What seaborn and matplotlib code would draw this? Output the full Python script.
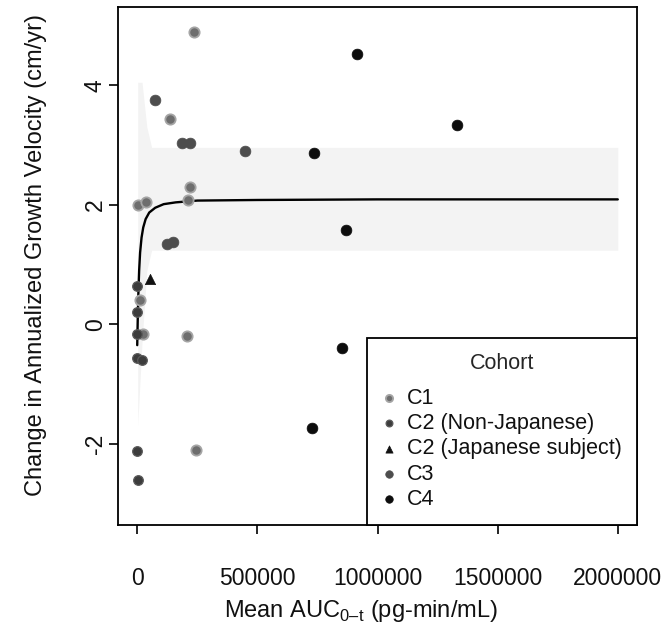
import numpy as np
import pandas as pd
import matplotlib
matplotlib.use("Agg")
import matplotlib.pyplot as plt
import seaborn as sns

# ---- data ----
c1_x = [237000, 137000, 220000, 212000, 3000, 37000, 11000, 25000, 209000, 244000]
c1_y = [4.89, 3.43, 2.29, 2.08, 1.99, 2.05, 0.40, -0.17, -0.20, -2.10]

c2n_x = [0, 0, 0, 0, 21000, 0, 2000]
c2n_y = [0.64, 0.21, -0.16, -0.57, -0.60, -2.12, -2.61]

c2j_x = [53000]
c2j_y = [0.76]

c3_x = [74000, 185000, 220000, 450000, 125500, 150600]
c3_y = [3.75, 3.03, 3.03, 2.90, 1.34, 1.38]

c4_x = [915000, 1331000, 736000, 870000, 852000, 728000]
c4_y = [4.53, 3.33, 2.87, 1.57, -0.40, -1.73]

cohort_names = ["C1", "C2 (Non-Japanese)", "C2 (Japanese subject)", "C3", "C4"]

curve_x = [0, 1000, 2500, 5000, 8000, 12000, 18000, 25000, 35000, 50000,
           75000, 110000, 160000, 250000, 500000, 1000000, 2000000]
curve_y = [-0.35, -0.15, 0.15, 0.55, 0.90, 1.20, 1.45, 1.62, 1.76, 1.87,
           1.95, 2.01, 2.04, 2.07, 2.08, 2.09, 2.09]

band_x = [2000, 20000, 40000, 60000, 2000000]
band_lo = [-1.70, -0.30, 0.90, 1.24, 1.24]
band_hi = [4.05, 4.05, 3.30, 2.96, 2.96]

x_ticks = [0, 500000, 1000000, 1500000, 2000000]
y_ticks = [-2, 0, 2, 4]

# ---- build table ----
frames = []
for name, xs, ys in zip(cohort_names,
                        [c1_x, c2n_x, c2j_x, c3_x, c4_x],
                        [c1_y, c2n_y, c2j_y, c3_y, c4_y]):
    frames.append(pd.DataFrame({"auc": xs, "dgv": ys, "Cohort": name}))
df = pd.concat(frames, ignore_index=True)
curve = pd.DataFrame({"auc": curve_x, "dgv": curve_y})

sns.set_theme(style="white")
plt.rcParams["font.family"] = ["Liberation Sans", "DejaVu Sans"]
plt.rcParams["mathtext.fontset"] = "custom"
plt.rcParams["mathtext.rm"] = "Liberation Sans"

fig = plt.figure(figsize=(6.65, 6.29), dpi=100)
ax = fig.add_axes([118 / 665, 1 - 525 / 629, (637 - 118) / 665, (525 - 7) / 629])

ax.fill_between(band_x, band_lo, band_hi, color="#f3f3f3", lw=0, zorder=1)
sns.lineplot(data=curve, x="auc", y="dgv", color="black", lw=1.7, ax=ax, zorder=2)

styles = {
    "C1": dict(color="#6e6e6e", marker="o", s=55, edgecolor="#a5a5a5", linewidth=1.3),
    "C2 (Non-Japanese)": dict(color="#3c3c3c", marker="o", s=48, edgecolor="#5a5a5a", linewidth=0.9),
    "C2 (Japanese subject)": dict(color="#111111", marker="^", s=55, edgecolor="#111111", linewidth=0.5),
    "C3": dict(color="#4d4d4d", marker="o", s=60, edgecolor="#4d4d4d", linewidth=0.5),
    "C4": dict(color="#0d0d0d", marker="o", s=60, edgecolor="#0d0d0d", linewidth=0.5),
}
for name in cohort_names:
    sub = df[df["Cohort"] == name]
    sns.scatterplot(data=sub, x="auc", y="dgv", ax=ax, label=name, zorder=3, **styles[name])

ax.set_xlim(-80000, 2080000)
ax.set_ylim(-3.36, 5.31)
ax.set_xticks(x_ticks)
ax.set_xticklabels([str(t) for t in x_ticks])
ax.set_yticks(y_ticks)
ax.set_yticklabels([str(t) for t in y_ticks], rotation=90, va="center")
ax.tick_params(axis="both", which="both", direction="out", length=6.5, width=1.2,
               color="black", labelsize=16.5, bottom=True, left=True, labelcolor="#111111")
ax.tick_params(axis="x", pad=24)
ax.tick_params(axis="y", pad=1.5)
for sp in ax.spines.values():
    sp.set_visible(True)
    sp.set_color("black")
    sp.set_linewidth(1.3)

ax.set_xlabel("Mean AUC$_{\\mathrm{0\u2013t}}$ (pg-min/mL)", fontsize=17, color="#111111")
ax.xaxis.set_label_coords((361 - 118) / 519, (525 - 598) / 518)
ax.set_ylabel("Change in Annualized Growth Velocity (cm/yr)", fontsize=17, color="#111111")
ax.yaxis.set_label_coords((47 - 118) / 519, (525 - 255) / 518)

handles, labels = ax.get_legend_handles_labels()
leg = ax.legend(handles, labels, title="Cohort", loc="lower right",
                bbox_to_anchor=(1.0, 0.0), borderaxespad=0, frameon=True,
                fancybox=False, edgecolor="black", fontsize=15.5, title_fontsize=15.5,
                labelspacing=0.2, handletextpad=0.54, handlelength=0.6,
                borderpad=0.7, markerscale=0.7)
leg._legend_box.sep = 10.0
leg.get_frame().set_linewidth(1.3)
leg.get_frame().set_facecolor("white")
leg.get_frame().set_alpha(1)
for t in leg.get_texts():
    t.set_color("#111111")

fig.savefig("out.png", dpi=100)
